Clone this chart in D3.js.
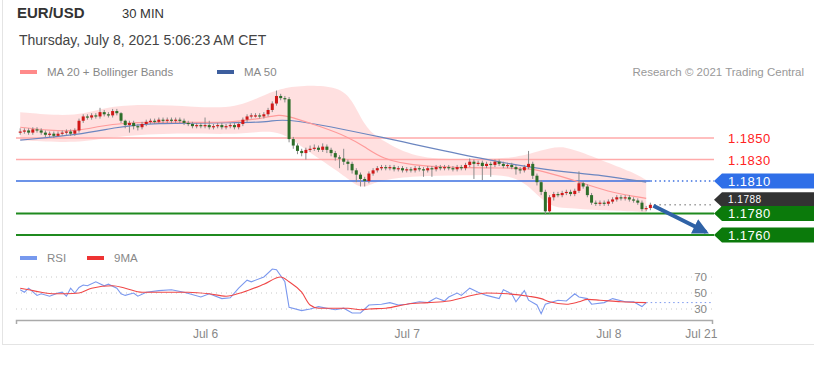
<!DOCTYPE html>
<html><head><meta charset="utf-8">
<script src="https://cdn.jsdelivr.net/npm/d3@7"></script>
<style>
body{margin:0;background:#fff;font-family:"Liberation Sans",Arial,sans-serif;}
svg{display:block}
</style></head><body>
<svg id="c" width="814" height="369"></svg>
<script>
// ---- data ----
const firstOpen = 1.1855;
const closes = [1.1856,1.1857,1.1855,1.1858,1.1857,1.1855,1.1853,1.1854,1.1852,1.1854,1.1855,1.1856,1.1854,1.1857,
1.1866,1.1870,1.1869,1.1871,1.1870,1.1874,1.1872,1.1871,1.1875,1.1873,
1.1866,1.1862,1.1864,1.1861,1.1860,1.1863,1.1865,1.1866,1.1865,1.1867,
1.1866,1.1867,1.1866,1.1867,1.1866,1.1864,1.1863,1.1861,1.1862,1.1861,
1.1862,1.1860,1.1861,1.1862,1.1860,1.1861,1.1862,1.1860,1.1863,1.1867,
1.1870,1.1871,1.1871,1.1870,1.1872,1.1876,1.1882,1.1889,1.1887,1.1886,
1.1849,1.1843,1.1838,1.1836,1.1839,1.1840,1.1841,1.1839,1.1842,1.1839,
1.1836,1.1832,1.1831,1.1828,1.1826,1.1820,1.1816,1.1812,1.1810,1.1817,1.1820,1.1822,
1.1823,1.1822,1.1823,1.1821,1.1822,1.1820,1.1821,1.1820,1.1822,1.1821,1.1820,1.1822,1.1821,1.1823,1.1822,1.1823,1.1822,1.1821,1.1823,1.1822,
1.1825,1.1828,1.1826,1.1827,1.1824,1.1826,1.1825,1.1828,1.1826,1.1824,
1.1825,1.1823,1.1821,1.1820,1.1823,1.1826,1.1815,1.1809,1.1800,1.1782,
1.1795,1.1798,1.1797,1.1799,1.1800,1.1798,1.1801,1.1808,1.1805,1.1797,
1.1790,1.1789,1.1790,1.1789,1.1791,1.1793,1.1795,1.1794,1.1795,1.1793,
1.1792,1.1790,1.1784,1.1785,1.1788];
const highs = [1.1859,1.1859,1.1859,1.1860,1.1860,1.1859,1.1857,1.1856,1.1856,1.1856,1.1857,1.1858,1.1858,1.1859,
1.1868,1.1872,1.1872,1.1873,1.1873,1.1878,1.1876,1.1874,1.1877,1.1877,
1.1874,1.1867,1.1866,1.1866,1.1863,1.1865,1.1867,1.1868,1.1868,1.1869,
1.1869,1.1869,1.1869,1.1869,1.1869,1.1868,1.1866,1.1865,1.1864,1.1864,
1.1869,1.1866,1.1863,1.1864,1.1864,1.1863,1.1864,1.1864,1.1865,1.1869,
1.1872,1.1873,1.1873,1.1873,1.1874,1.1878,1.1884,1.1894,1.1891,1.1889,
1.1888,1.1851,1.1845,1.1840,1.1841,1.1843,1.1844,1.1843,1.1845,1.1844,
1.1841,1.1838,1.1834,1.1840,1.1830,1.1828,1.1822,1.1818,1.1814,1.1819,1.1822,1.1824,
1.1825,1.1825,1.1825,1.1825,1.1824,1.1824,1.1823,1.1823,1.1824,1.1824,1.1823,1.1824,1.1824,1.1825,1.1825,1.1825,1.1825,1.1824,1.1825,1.1825,
1.1827,1.1831,1.1830,1.1829,1.1829,1.1828,1.1828,1.1830,1.1830,1.1828,
1.1827,1.1827,1.1825,1.1823,1.1825,1.1838,1.1828,1.1817,1.1811,1.1802,
1.1797,1.1800,1.1800,1.1801,1.1802,1.1802,1.1803,1.1819,1.1810,1.1807,
1.1799,1.1792,1.1792,1.1792,1.1793,1.1795,1.1797,1.1797,1.1797,1.1797,
1.1795,1.1794,1.1792,1.1787,1.1790];
const lows = [1.1853,1.1854,1.1853,1.1853,1.1855,1.1853,1.1851,1.1851,1.1850,1.1851,1.1852,1.1853,1.1852,1.1852,
1.1855,1.1864,1.1867,1.1867,1.1868,1.1868,1.1870,1.1869,1.1869,1.1871,
1.1864,1.1859,1.1855,1.1858,1.1857,1.1858,1.1861,1.1863,1.1863,1.1863,
1.1864,1.1864,1.1864,1.1864,1.1864,1.1862,1.1861,1.1859,1.1859,1.1859,
1.1859,1.1858,1.1858,1.1859,1.1858,1.1858,1.1859,1.1858,1.1858,1.1861,
1.1865,1.1868,1.1869,1.1868,1.1868,1.1870,1.1874,1.1880,1.1885,1.1883,
1.1846,1.1840,1.1835,1.1833,1.1830,1.1837,1.1838,1.1837,1.1837,1.1836,
1.1833,1.1829,1.1822,1.1825,1.1820,1.1817,1.1809,1.1805,1.1805,1.1808,1.1815,1.1818,
1.1820,1.1820,1.1820,1.1819,1.1819,1.1818,1.1818,1.1818,1.1818,1.1819,1.1814,1.1818,1.1814,1.1819,1.1820,1.1820,1.1820,1.1819,1.1819,1.1820,
1.1820,1.1823,1.1812,1.1824,1.1811,1.1822,1.1814,1.1823,1.1824,1.1822,
1.1822,1.1821,1.1816,1.1817,1.1818,1.1821,1.1812,1.1806,1.1797,1.1779,
1.1780,1.1792,1.1795,1.1795,1.1797,1.1796,1.1796,1.1799,1.1803,1.1795,
1.1788,1.1787,1.1787,1.1787,1.1787,1.1789,1.1791,1.1792,1.1792,1.1791,
1.1790,1.1788,1.1782,1.1782,1.1783];

// indicators: candle index + value
const ma20Idx = [0,7,13,19,24,38,50,57,62,64,72,78,82,86,94,117,122,129,134,141,149];
const ma20Val = [1.1860,1.1857,1.1856,1.1861,1.1864,1.1865,1.1864,1.1868,1.1872,1.1870,1.1860,1.1851,1.1842,1.1831,1.1823,1.1822,1.1822,1.1814,1.1808,1.1799,1.1794];
const bbIdx = [0,14,21,36,50,57,62,67,76,79,81,83,86,94,105,117,122,126,130,134,138,146,149];
const bbUpper = [1.1874,1.1869,1.1881,1.1881,1.1876,1.1888,1.1896,1.1899,1.1898,1.1885,1.1869,1.1857,1.1848,1.1831,1.1830,1.1831,1.1836,1.1841,1.1842,1.1836,1.1830,1.1818,1.1811];
const bbLower = [1.1848,1.1845,1.1851,1.1855,1.1853,1.1856,1.1856,1.1842,1.1818,1.1809,1.1804,1.1806,1.1811,1.1815,1.1815,1.1817,1.1802,1.1786,1.1785,1.1784,1.1783,1.1782,1.1781];
const ma50Idx = [0,14,23,31,52,60,63,86,110,129,138,149];
const ma50Val = [1.1848,1.1853,1.1860,1.1864,1.1864,1.1865,1.1869,1.1851,1.1830,1.1818,1.1816,1.1809];

const rsiIdx = [0,1,2,4,5,7,9,10,11,12,13,14,15,16,18,20,21,23,24,25,27,28,30,33,36,39,43,45,48,50,52,54,55,58,60,61,63,64,67,69,71,73,75,77,79,81,83,86,88,90,92,95,97,99,101,102,104,105,107,109,111,114,115,117,118,120,121,123,124,125,128,130,132,133,135,136,139,141,144,146,148,149];
const rsiVal = [54,51,56,47,49,46,50,51,46,56,50,57,60,59,64,59,61,56,49,47,50,46,51,53,54,51,45,49,43,44,56,66,64,70,80,79,64,32,28,30,33,31,29,31,25,25,35,36,38,35,36,39,38,44,40,45,50,47,56,51,47,43,54,49,39,53,41,35,24,36,41,40,49,45,43,36,38,43,39,39,33,38];
const rsiMaIdx = [0,2,5,8,11,14,17,22,25,29,35,40,45,49,53,58,62,64,67,69,71,75,78,81,83,87,92,97,102,106,111,116,121,124,126,130,133,135,138,143,149];
const rsiMaVal = [56,54,51,49,49,50,56,59,56,51,51,51,49,46,51,61,70,64,51,35,31,31,31,29,30,31,36,38,40,45,50,49,46,43,39,36,39,42,41,39,38];

const levelsRed = [1.1850, 1.1830];
const levelBlue = 1.1810;
const levelsGreen = [1.1780, 1.1760];
const lastPrice = 1.1788;
const rsiGrid = [70, 50, 30];
const tickDates = [new Date(2021,6,6), new Date(2021,6,7), new Date(2021,6,8), new Date(2021,6,8,11,0)];
const tickLabels = ["Jul 6","Jul 7","Jul 8","Jul 21"];

// ---- build ----
const t0 = new Date(2021,6,5,2,0);
const step = 30*60*1000;
const tAt = i => new Date(t0.getTime() + i*step);
const candles = closes.map((c,i)=>({t:tAt(i), o: i===0?firstOpen:closes[i-1], c, h:highs[i], l:lows[i]}));

const svg = d3.select("#c");
const x = d3.scaleTime().domain([new Date(2021,6,5,1,30), new Date(2021,6,8,12,20)]).range([16,712]);
const y = d3.scaleLinear().domain([1.1760,1.1850]).range([235,138]);
const yr = d3.scaleLinear().domain([30,70]).range([309,277]);

// frame
svg.append("line").attr("x1",2.5).attr("x2",2.5).attr("y1",0).attr("y2",344).attr("stroke","#e4e4e4");
svg.append("line").attr("x1",2).attr("x2",814).attr("y1",344.5).attr("y2",344.5).attr("stroke","#e4e4e4");

// titles
svg.append("text").attr("x",17).attr("y",18).attr("font-size",15).attr("font-weight","bold").attr("fill","#333").text("EUR/USD");
svg.append("text").attr("x",122).attr("y",18).attr("font-size",13).attr("fill","#333").text("30 MIN");
svg.append("text").attr("x",19).attr("y",45).attr("font-size",14).attr("fill","#444").text("Thursday, July 8, 2021 5:06:23 AM CET");

// legend
const leg = (x0,y0,col,txt)=>{
  svg.append("rect").attr("x",x0).attr("y",y0-2).attr("width",17).attr("height",4).attr("fill",col);
  svg.append("text").attr("x",x0+27).attr("y",y0+4).attr("font-size",11.5).attr("fill","#888").text(txt);
};
leg(20,72,"#ff8a8a","MA 20 + Bollinger Bands");
leg(217,72,"#3d5e9e","MA 50");
svg.append("text").attr("x",804).attr("y",76).attr("text-anchor","end").attr("font-size",11.5).attr("fill","#999").text("Research \u00a9 2021 Trading Central");
leg(20,258,"#7799ee","RSI");
leg(87,258,"#ee3333","9MA");

// Bollinger band
const bb = bbIdx.map((k,j)=>({t:tAt(k),u:bbUpper[j],lo:bbLower[j]}));
svg.append("path").datum(bb).attr("fill","#ffd6d6").attr("opacity",0.75)
  .attr("d", d3.area().curve(d3.curveBasis).x(d=>x(d.t)).y0(d=>y(d.lo)).y1(d=>y(d.u)));

// levels
levelsRed.forEach(v=>{
  svg.append("line").attr("x1",16).attr("x2",714).attr("y1",y(v)).attr("y2",y(v)).attr("stroke","#ffaaaa").attr("stroke-width",1.5);
  svg.append("text").attr("x",728).attr("y",y(v)+5).attr("font-size",13).attr("fill","#ff2222").attr("letter-spacing",0.5).text(v.toFixed(4));
});
const xLast = x(candles[candles.length-1].t);
svg.append("line").attr("x1",16).attr("x2",xLast).attr("y1",y(levelBlue)).attr("y2",y(levelBlue)).attr("stroke","#3b6fe0").attr("stroke-width",1.5);
svg.append("line").attr("x1",xLast).attr("x2",714).attr("y1",y(levelBlue)).attr("y2",y(levelBlue)).attr("stroke","#3b6fe0").attr("stroke-width",1.5).attr("stroke-dasharray","1.5,3");
levelsGreen.forEach(v=>{
  svg.append("line").attr("x1",16).attr("x2",714).attr("y1",y(v)).attr("y2",y(v)).attr("stroke","#1f8a1f").attr("stroke-width",2);
});
svg.append("line").attr("x1",xLast+4).attr("x2",714).attr("y1",y(lastPrice)).attr("y2",y(lastPrice)).attr("stroke","#999").attr("stroke-width",1.5).attr("stroke-dasharray","1.5,3.5");

// MA lines
const line = d3.line().curve(d3.curveBasis).x(d=>x(d.t)).y(d=>y(d.v));
svg.append("path").datum(ma50Idx.map((k,j)=>({t:tAt(k),v:ma50Val[j]}))).attr("fill","none").attr("stroke","#6b86c0").attr("stroke-width",1.2).attr("d",line);
svg.append("path").datum(ma20Idx.map((k,j)=>({t:tAt(k),v:ma20Val[j]}))).attr("fill","none").attr("stroke","#ff9a9a").attr("stroke-width",1.2).attr("d",line);

// candles
const cg = svg.append("g");
cg.selectAll("line").data(candles).join("line")
  .attr("x1",d=>x(d.t)).attr("x2",d=>x(d.t)).attr("y1",d=>y(d.h)).attr("y2",d=>y(d.l))
  .attr("stroke","#8a8a8a").attr("stroke-width",1);
cg.selectAll("rect").data(candles).join("rect")
  .attr("x",d=>x(d.t)-1.5).attr("width",3)
  .attr("y",d=>y(Math.max(d.o,d.c)))
  .attr("height",d=>Math.max(1.2, Math.abs(y(d.o)-y(d.c))))
  .attr("fill",d=>d.c>=d.o?"#d01818":"#2e6e2a");

// arrow
svg.append("defs").append("marker").attr("id","ah").attr("viewBox","0 0 10 10").attr("refX",8).attr("refY",5)
  .attr("markerWidth",4).attr("markerHeight",4).attr("orient","auto")
  .append("path").attr("d","M0,0 L10,5 L0,10 z").attr("fill","#2f62a6");
svg.append("line").attr("x1",xLast+3).attr("y1",y(lastPrice)+1).attr("x2",706).attr("y2",y(1.1760)-3)
  .attr("stroke","#2f62a6").attr("stroke-width",4).attr("marker-end","url(#ah)");

// right tags
const tag = (v,col,tc,dy,fs)=>{
  const yy = y(v)+dy;
  svg.append("path").attr("d",`M714,${yy} L722,${yy-7.5} L814,${yy-7.5} L814,${yy+7.5} L722,${yy+7.5} Z`).attr("fill",col);
  svg.append("text").attr("x",728).attr("y",yy+fs*0.36).attr("font-size",fs).attr("fill",tc).attr("letter-spacing",0.5).text(v.toFixed(4));
};
tag(levelBlue,"#2f6fe8","#fff",0,13);
tag(lastPrice,"#333","#fff",-5,10);
levelsGreen.forEach(v=>tag(v,"#0b7a0b","#fff",0,13));

// RSI panel
rsiGrid.forEach(v=>{
  svg.append("line").attr("x1",16).attr("x2",712).attr("y1",yr(v)).attr("y2",yr(v)).attr("stroke","#c8c8c8").attr("stroke-dasharray","1,4");
  svg.append("text").attr("x",707).attr("y",yr(v)+4).attr("text-anchor","end").attr("font-size",11.5).attr("fill","#888").text(v);
});
const rl = d3.line().curve(d3.curveLinear).x(d=>x(d.t)).y(d=>yr(d.v));
const rsiPts = rsiIdx.map((k,j)=>({t:tAt(k),v:rsiVal[j]}));
svg.append("path").datum(rsiPts).attr("fill","none").attr("stroke","#7b98ee").attr("stroke-width",1.1).attr("d",rl);
const lastR = rsiPts[rsiPts.length-1];
svg.append("line").attr("x1",x(lastR.t)).attr("x2",712).attr("y1",yr(lastR.v)).attr("y2",yr(lastR.v)).attr("stroke","#7b98ee").attr("stroke-dasharray","1.5,3");
svg.append("path").datum(rsiMaIdx.map((k,j)=>({t:tAt(k),v:rsiMaVal[j]}))).attr("fill","none").attr("stroke","#f04848").attr("stroke-width",1.1)
  .attr("d", d3.line().curve(d3.curveMonotoneX).x(d=>x(d.t)).y(d=>yr(d.v)));

// x axis
const ax = svg.append("g").attr("transform","translate(0,320)")
  .call(d3.axisBottom(x).tickValues(tickDates).tickSize(0).tickSizeOuter(4).tickPadding(9).tickFormat((d,i)=>tickLabels[i]));
ax.select(".domain").attr("stroke","#aaa").attr("stroke-width",1.5);
ax.selectAll("text").attr("font-size",12).attr("fill","#888").attr("font-family","Liberation Sans, Arial, sans-serif");
</script>
</body></html>
